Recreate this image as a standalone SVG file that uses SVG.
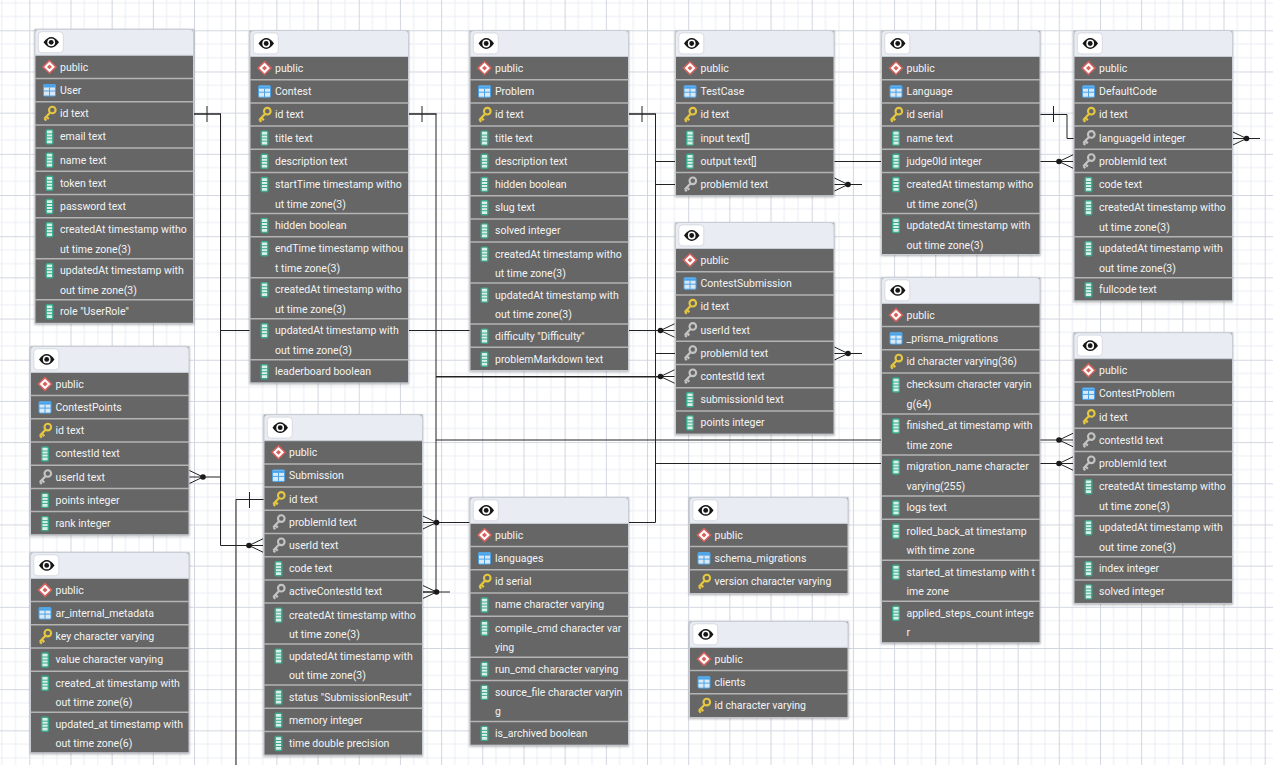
<svg xmlns="http://www.w3.org/2000/svg" width="1273" height="765" viewBox="0 0 1273 765">
<style>
text{font-family:Roboto,"Liberation Sans",sans-serif;font-size:10.5px;fill:#f4f4f4}
.b{fill:#666;stroke:#c9cdd6;stroke-width:1;filter:drop-shadow(0 1px 1px rgba(0,0,0,.3))}
.s{fill:none;stroke:#b4b4b4;stroke-width:1.5}
.c{fill:none;stroke:#222;stroke-width:1}
.h{fill:none;stroke:#222;stroke-width:1.700}
.bar{fill:none;stroke:#222;stroke-width:1}
</style>
<defs>
<pattern id="grid" patternUnits="userSpaceOnUse" x="29.300" y="30.300" width="41.180" height="41.180">
<rect width="41.180" height="41.180" fill="#fff"/>
<path d="M13.700 0V41.180M27.400 0V41.180M0 13.700H41.180M0 27.400H41.180" stroke="#eceef4" stroke-width="1" fill="none"/>
<path d="M0 0V41.180M0 0H41.180" stroke="#d2d6e0" stroke-width="2" fill="none"/>
</pattern>
<g id="hd">
<path d="M0 26V4a4 4 0 0 1 4-4H154.500a4 4 0 0 1 4 4V26Z" fill="#e9ecf2" stroke="#c9cdd6" stroke-width="1"/>
<rect x="3.300" y="2.400" width="25" height="21" rx="3.500" fill="#fff" stroke="#d8dbe2" stroke-width="1"/>
<path d="M8.500 13C11 9.500 13.500 7.600 16.200 7.600C19 7.600 21.500 9.500 24 13C21.500 16.500 19 18.400 16.200 18.400C13.500 18.400 11 16.500 8.500 13Z" fill="#151515"/>
<circle cx="16.200" cy="13" r="3.900" fill="#fff"/>
<circle cx="16.200" cy="13" r="2.400" fill="#151515"/>
</g>
<g id="i-s">
<path d="M14.500 5.200L21 11.600L14.500 18L8 11.600Z" fill="#fff" stroke="#d9605c" stroke-width="1.500"/>
<path d="M14.500 9.200L17 11.600L14.500 14L12 11.600Z" fill="#d9605c"/>
</g>
<g id="i-t">
<rect x="8.500" y="6" width="12" height="11.500" rx="1" fill="#dbe9f5" stroke="#4aa3e8" stroke-width="1"/>
<path d="M8.500 6.500h12v2.500h-12Z" fill="#4aa3e8"/>
<path d="M8.500 12.500h12M14.500 9V17.500" stroke="#4aa3e8" stroke-width="1" fill="none"/>
</g>
<g id="i-k">
<path d="M15 11L9.300 17M11.500 15l2.300 2.300M9.500 17l1.800 1.800" fill="none" stroke="#e6c740" stroke-width="2.200"/>
<circle cx="17.300" cy="8.300" r="3.300" fill="none" stroke="#e6c740" stroke-width="2.100"/>
</g>
<g id="i-f">
<path d="M15 11L9.300 17M11.500 15l2.300 2.300M9.500 17l1.800 1.800" fill="none" stroke="#c4c4c4" stroke-width="2.200"/>
<circle cx="17.300" cy="8.300" r="3.300" fill="none" stroke="#c4c4c4" stroke-width="2.100"/>
</g>
<g id="i-c">
<rect x="11.200" y="5" width="6.600" height="14" rx="1.200" fill="#d8f0e8" stroke="#3aaa8e" stroke-width="1.400"/>
<path d="M11 9h7M11 12h7M11 15h7" stroke="#3aaa8e" stroke-width="1" fill="none"/>
</g>
<g id="cr"><path d="M0 0L-14 -6.700M0 0H-14M0 0L-14 6.700" class="c"/><circle r="2.800" fill="#1a1a1a"/></g>
<g id="cl"><path d="M0 0L14 -6.700M0 0H14M0 0L14 6.700" class="c"/><circle r="2.800" fill="#1a1a1a"/></g>
</defs>
<rect width="1273" height="765" fill="url(#grid)"/>
<g id="connectors">
<path class="c" d="M220.500 114V545.500H249"/>
<path class="h" d="M194 114H221M409 114H436.500M628 114H656"/>
<path class="c" d="M203 477H220.500"/>
<path class="c" d="M220.500 330.500H660"/>
<path class="c" d="M436 114V592M423 592H450M436 376.500H660M436 377H660M436 440H1058"/>
<path class="c" d="M655.500 114V522.500H436"/>
<path class="c" d="M655.500 161.500H1058M655.500 184.500H675M834 184.500H862M655.500 353.500H675M834 353.500H862M655.500 463.500H1058"/>
<path class="c" d="M1040 114.500H1067V138.500H1074M1232 138.500H1260"/>
<path class="c" d="M264 499.500H236V765"/>
<path class="bar" d="M207 106V122M422 106V122M642 106V122M1053.500 106V122M249.500 492V508"/>
<use href="#cl" x="249" y="545.500"/>
<use href="#cr" x="203" y="477"/>
<use href="#cr" x="436.500" y="522.500"/>
<use href="#cr" x="436.500" y="592"/>
<use href="#cr" x="848" y="184.500"/>
<use href="#cr" x="848" y="353.500"/>
<use href="#cr" x="1246.500" y="138.500"/>
<use href="#cl" x="660.500" y="330.500"/>
<use href="#cl" x="660.500" y="376.500"/>
<use href="#cl" x="1059" y="161.500"/>
<use href="#cl" x="1059" y="440"/>
<use href="#cl" x="1059" y="463.500"/>
</g>

<g id="node-User" transform="translate(35,29.300)">
<rect class="b" width="158.500" height="294"/><use href="#hd"/>
<path class="s" d="M0 49.200h158.500M0 72.400h158.500M0 95.600h158.500M0 118.800h158.500M0 142h158.500M0 165.200h158.500M0 188.400h158.500M0 229.400h158.500M0 270.400h158.500"/>
<use href="#i-s" y="26"/><text x="25" y="41.500">public</text>
<use href="#i-t" y="49.200"/><text x="25" y="64.700">User</text>
<use href="#i-k" y="72.400"/><text x="25" y="87.900">id text</text>
<use href="#i-c" y="95.600"/><text x="25" y="111.100">email text</text>
<use href="#i-c" y="118.800"/><text x="25" y="134.300">name text</text>
<use href="#i-c" y="142"/><text x="25" y="157.500">token text</text>
<use href="#i-c" y="165.200"/><text x="25" y="180.700">password text</text>
<use href="#i-c" y="188.400"/><text x="25" y="203.900">createdAt timestamp witho</text><text x="25" y="223.400">ut time zone(3)</text>
<use href="#i-c" y="229.400"/><text x="25" y="244.900">updatedAt timestamp with</text><text x="25" y="264.400">out time zone(3)</text>
<use href="#i-c" y="270.400"/><text x="25" y="285.900">role "UserRole"</text>
</g>

<g id="node-Contest" transform="translate(250,30.500)">
<rect class="b" width="158.500" height="352.400"/><use href="#hd"/>
<path class="s" d="M0 49.200h158.500M0 72.400h158.500M0 95.600h158.500M0 118.800h158.500M0 142h158.500M0 183h158.500M0 206.200h158.500M0 247.200h158.500M0 288.200h158.500M0 329.200h158.500"/>
<use href="#i-s" y="26"/><text x="25" y="41.500">public</text>
<use href="#i-t" y="49.200"/><text x="25" y="64.700">Contest</text>
<use href="#i-k" y="72.400"/><text x="25" y="87.900">id text</text>
<use href="#i-c" y="95.600"/><text x="25" y="111.100">title text</text>
<use href="#i-c" y="118.800"/><text x="25" y="134.300">description text</text>
<use href="#i-c" y="142"/><text x="25" y="157.500">startTime timestamp witho</text><text x="25" y="177">ut time zone(3)</text>
<use href="#i-c" y="183"/><text x="25" y="198.500">hidden boolean</text>
<use href="#i-c" y="206.200"/><text x="25" y="221.700">endTime timestamp withou</text><text x="25" y="241.200">t time zone(3)</text>
<use href="#i-c" y="247.200"/><text x="25" y="262.700">createdAt timestamp witho</text><text x="25" y="282.200">ut time zone(3)</text>
<use href="#i-c" y="288.200"/><text x="25" y="303.700">updatedAt timestamp with</text><text x="25" y="323.200">out time zone(3)</text>
<use href="#i-c" y="329.200"/><text x="25" y="344.700">leaderboard boolean</text>
</g>

<g id="node-Problem" transform="translate(470,30.500)">
<rect class="b" width="158.500" height="340"/><use href="#hd"/>
<path class="s" d="M0 49.200h158.500M0 72.400h158.500M0 95.600h158.500M0 118.800h158.500M0 142h158.500M0 165.200h158.500M0 188.400h158.500M0 211.600h158.500M0 252.600h158.500M0 293.600h158.500M0 316.800h158.500"/>
<use href="#i-s" y="26"/><text x="25" y="41.500">public</text>
<use href="#i-t" y="49.200"/><text x="25" y="64.700">Problem</text>
<use href="#i-k" y="72.400"/><text x="25" y="87.900">id text</text>
<use href="#i-c" y="95.600"/><text x="25" y="111.100">title text</text>
<use href="#i-c" y="118.800"/><text x="25" y="134.300">description text</text>
<use href="#i-c" y="142"/><text x="25" y="157.500">hidden boolean</text>
<use href="#i-c" y="165.200"/><text x="25" y="180.700">slug text</text>
<use href="#i-c" y="188.400"/><text x="25" y="203.900">solved integer</text>
<use href="#i-c" y="211.600"/><text x="25" y="227.100">createdAt timestamp witho</text><text x="25" y="246.600">ut time zone(3)</text>
<use href="#i-c" y="252.600"/><text x="25" y="268.100">updatedAt timestamp with</text><text x="25" y="287.600">out time zone(3)</text>
<use href="#i-c" y="293.600"/><text x="25" y="309.100">difficulty "Difficulty"</text>
<use href="#i-c" y="316.800"/><text x="25" y="332.300">problemMarkdown text</text>
</g>

<g id="node-TestCase" transform="translate(675.500,30.500)">
<rect class="b" width="158.500" height="165.200"/><use href="#hd"/>
<path class="s" d="M0 49.200h158.500M0 72.400h158.500M0 95.600h158.500M0 118.800h158.500M0 142h158.500"/>
<use href="#i-s" y="26"/><text x="25" y="41.500">public</text>
<use href="#i-t" y="49.200"/><text x="25" y="64.700">TestCase</text>
<use href="#i-k" y="72.400"/><text x="25" y="87.900">id text</text>
<use href="#i-c" y="95.600"/><text x="25" y="111.100">input text[]</text>
<use href="#i-c" y="118.800"/><text x="25" y="134.300">output text[]</text>
<use href="#i-f" y="142"/><text x="25" y="157.500">problemId text</text>
</g>

<g id="node-Language" transform="translate(881.500,30.500)">
<rect class="b" width="158.500" height="224"/><use href="#hd"/>
<path class="s" d="M0 49.200h158.500M0 72.400h158.500M0 95.600h158.500M0 118.800h158.500M0 142h158.500M0 183h158.500"/>
<use href="#i-s" y="26"/><text x="25" y="41.500">public</text>
<use href="#i-t" y="49.200"/><text x="25" y="64.700">Language</text>
<use href="#i-k" y="72.400"/><text x="25" y="87.900">id serial</text>
<use href="#i-c" y="95.600"/><text x="25" y="111.100">name text</text>
<use href="#i-c" y="118.800"/><text x="25" y="134.300">judge0Id integer</text>
<use href="#i-c" y="142"/><text x="25" y="157.500">createdAt timestamp witho</text><text x="25" y="177">ut time zone(3)</text>
<use href="#i-c" y="183"/><text x="25" y="198.500">updatedAt timestamp with</text><text x="25" y="218">out time zone(3)</text>
</g>

<g id="node-DefaultCode" transform="translate(1074,30.500)">
<rect class="b" width="158.500" height="270.400"/><use href="#hd"/>
<path class="s" d="M0 49.200h158.500M0 72.400h158.500M0 95.600h158.500M0 118.800h158.500M0 142h158.500M0 165.200h158.500M0 206.200h158.500M0 247.200h158.500"/>
<use href="#i-s" y="26"/><text x="25" y="41.500">public</text>
<use href="#i-t" y="49.200"/><text x="25" y="64.700">DefaultCode</text>
<use href="#i-k" y="72.400"/><text x="25" y="87.900">id text</text>
<use href="#i-f" y="95.600"/><text x="25" y="111.100">languageId integer</text>
<use href="#i-f" y="118.800"/><text x="25" y="134.300">problemId text</text>
<use href="#i-c" y="142"/><text x="25" y="157.500">code text</text>
<use href="#i-c" y="165.200"/><text x="25" y="180.700">createdAt timestamp witho</text><text x="25" y="200.200">ut time zone(3)</text>
<use href="#i-c" y="206.200"/><text x="25" y="221.700">updatedAt timestamp with</text><text x="25" y="241.200">out time zone(3)</text>
<use href="#i-c" y="247.200"/><text x="25" y="262.700">fullcode text</text>
</g>

<g id="node-ContestPoints" transform="translate(30.500,346.400)">
<rect class="b" width="158.500" height="188.400"/><use href="#hd"/>
<path class="s" d="M0 49.200h158.500M0 72.400h158.500M0 95.600h158.500M0 118.800h158.500M0 142h158.500M0 165.200h158.500"/>
<use href="#i-s" y="26"/><text x="25" y="41.500">public</text>
<use href="#i-t" y="49.200"/><text x="25" y="64.700">ContestPoints</text>
<use href="#i-k" y="72.400"/><text x="25" y="87.900">id text</text>
<use href="#i-c" y="95.600"/><text x="25" y="111.100">contestId text</text>
<use href="#i-f" y="118.800"/><text x="25" y="134.300">userId text</text>
<use href="#i-c" y="142"/><text x="25" y="157.500">points integer</text>
<use href="#i-c" y="165.200"/><text x="25" y="180.700">rank integer</text>
</g>

<g id="node-ar_internal_metadata" transform="translate(30.500,552.400)">
<rect class="b" width="158.500" height="200.400"/><use href="#hd"/>
<path class="s" d="M0 49.200h158.500M0 72.400h158.500M0 95.600h158.500M0 118.800h158.500M0 159.800h158.500"/>
<use href="#i-s" y="26"/><text x="25" y="41.500">public</text>
<use href="#i-t" y="49.200"/><text x="25" y="64.700">ar_internal_metadata</text>
<use href="#i-k" y="72.400"/><text x="25" y="87.900">key character varying</text>
<use href="#i-c" y="95.600"/><text x="25" y="111.100">value character varying</text>
<use href="#i-c" y="118.800"/><text x="25" y="134.300">created_at timestamp with</text><text x="25" y="153.800">out time zone(6)</text>
<use href="#i-c" y="159.800"/><text x="25" y="175.300">updated_at timestamp with</text><text x="25" y="194.800">out time zone(6)</text>
</g>

<g id="node-Submission" transform="translate(264,414.700)">
<rect class="b" width="158.500" height="340.400"/><use href="#hd"/>
<path class="s" d="M0 49.200h158.500M0 72.400h158.500M0 95.600h158.500M0 118.800h158.500M0 142h158.500M0 165.200h158.500M0 188.400h158.500M0 229.400h158.500M0 270.400h158.500M0 293.600h158.500M0 316.800h158.500"/>
<use href="#i-s" y="26"/><text x="25" y="41.500">public</text>
<use href="#i-t" y="49.200"/><text x="25" y="64.700">Submission</text>
<use href="#i-k" y="72.400"/><text x="25" y="87.900">id text</text>
<use href="#i-f" y="95.600"/><text x="25" y="111.100">problemId text</text>
<use href="#i-f" y="118.800"/><text x="25" y="134.300">userId text</text>
<use href="#i-c" y="142"/><text x="25" y="157.500">code text</text>
<use href="#i-f" y="165.200"/><text x="25" y="180.700">activeContestId text</text>
<use href="#i-c" y="188.400"/><text x="25" y="203.900">createdAt timestamp witho</text><text x="25" y="223.400">ut time zone(3)</text>
<use href="#i-c" y="229.400"/><text x="25" y="244.900">updatedAt timestamp with</text><text x="25" y="264.400">out time zone(3)</text>
<use href="#i-c" y="270.400"/><text x="25" y="285.900">status "SubmissionResult"</text>
<use href="#i-c" y="293.600"/><text x="25" y="309.100">memory integer</text>
<use href="#i-c" y="316.800"/><text x="25" y="332.300">time double precision</text>
</g>

<g id="node-languages" transform="translate(470,497.400)">
<rect class="b" width="158.500" height="247.800"/><use href="#hd"/>
<path class="s" d="M0 49.200h158.500M0 72.400h158.500M0 95.600h158.500M0 118.800h158.500M0 159.800h158.500M0 183h158.500M0 224h158.500"/>
<use href="#i-s" y="26"/><text x="25" y="41.500">public</text>
<use href="#i-t" y="49.200"/><text x="25" y="64.700">languages</text>
<use href="#i-k" y="72.400"/><text x="25" y="87.900">id serial</text>
<use href="#i-c" y="95.600"/><text x="25" y="111.100">name character varying</text>
<use href="#i-c" y="118.800"/><text x="25" y="134.300">compile_cmd character var</text><text x="25" y="153.800">ying</text>
<use href="#i-c" y="159.800"/><text x="25" y="175.300">run_cmd character varying</text>
<use href="#i-c" y="183"/><text x="25" y="198.500">source_file character varyin</text><text x="25" y="218">g</text>
<use href="#i-c" y="224"/><text x="25" y="239.500">is_archived boolean</text>
</g>

<g id="node-ContestSubmission" transform="translate(675.500,222.500)">
<rect class="b" width="158.500" height="211.600"/><use href="#hd"/>
<path class="s" d="M0 49.200h158.500M0 72.400h158.500M0 95.600h158.500M0 118.800h158.500M0 142h158.500M0 165.200h158.500M0 188.400h158.500"/>
<use href="#i-s" y="26"/><text x="25" y="41.500">public</text>
<use href="#i-t" y="49.200"/><text x="25" y="64.700">ContestSubmission</text>
<use href="#i-k" y="72.400"/><text x="25" y="87.900">id text</text>
<use href="#i-f" y="95.600"/><text x="25" y="111.100">userId text</text>
<use href="#i-f" y="118.800"/><text x="25" y="134.300">problemId text</text>
<use href="#i-f" y="142"/><text x="25" y="157.500">contestId text</text>
<use href="#i-c" y="165.200"/><text x="25" y="180.700">submissionId text</text>
<use href="#i-c" y="188.400"/><text x="25" y="203.900">points integer</text>
</g>

<g id="node-prisma_migrations" transform="translate(881.500,277.400)">
<rect class="b" width="158.500" height="365.400"/><use href="#hd"/>
<path class="s" d="M0 49.200h158.500M0 72.400h158.500M0 95.600h158.500M0 136.600h158.500M0 177.600h158.500M0 218.600h158.500M0 241.800h158.500M0 282.800h158.500M0 323.800h158.500"/>
<use href="#i-s" y="26"/><text x="25" y="41.500">public</text>
<use href="#i-t" y="49.200"/><text x="25" y="64.700">_prisma_migrations</text>
<use href="#i-k" y="72.400"/><text x="25" y="87.900">id character varying(36)</text>
<use href="#i-c" y="95.600"/><text x="25" y="111.100">checksum character varyin</text><text x="25" y="130.600">g(64)</text>
<use href="#i-c" y="136.600"/><text x="25" y="152.100">finished_at timestamp with</text><text x="25" y="171.600">time zone</text>
<use href="#i-c" y="177.600"/><text x="25" y="193.100">migration_name character</text><text x="25" y="212.600">varying(255)</text>
<use href="#i-c" y="218.600"/><text x="25" y="234.100">logs text</text>
<use href="#i-c" y="241.800"/><text x="25" y="257.300">rolled_back_at timestamp</text><text x="25" y="276.800">with time zone</text>
<use href="#i-c" y="282.800"/><text x="25" y="298.300">started_at timestamp with t</text><text x="25" y="317.800">ime zone</text>
<use href="#i-c" y="323.800"/><text x="25" y="339.300">applied_steps_count intege</text><text x="25" y="358.800">r</text>
</g>

<g id="node-ContestProblem" transform="translate(1074,332.700)">
<rect class="b" width="158.500" height="270.700"/><use href="#hd"/>
<path class="s" d="M0 49.200h158.500M0 72.400h158.500M0 95.600h158.500M0 118.800h158.500M0 142h158.500M0 183h158.500M0 224h158.500M0 247.200h158.500"/>
<use href="#i-s" y="26"/><text x="25" y="41.500">public</text>
<use href="#i-t" y="49.200"/><text x="25" y="64.700">ContestProblem</text>
<use href="#i-k" y="72.400"/><text x="25" y="87.900">id text</text>
<use href="#i-f" y="95.600"/><text x="25" y="111.100">contestId text</text>
<use href="#i-f" y="118.800"/><text x="25" y="134.300">problemId text</text>
<use href="#i-c" y="142"/><text x="25" y="157.500">createdAt timestamp witho</text><text x="25" y="177">ut time zone(3)</text>
<use href="#i-c" y="183"/><text x="25" y="198.500">updatedAt timestamp with</text><text x="25" y="218">out time zone(3)</text>
<use href="#i-c" y="224"/><text x="25" y="239.500">index integer</text>
<use href="#i-c" y="247.200"/><text x="25" y="262.700">solved integer</text>
</g>

<g id="node-schema_migrations" transform="translate(689.500,497.400)">
<rect class="b" width="158.500" height="96.200"/><use href="#hd"/>
<path class="s" d="M0 49.200h158.500M0 72.400h158.500"/>
<use href="#i-s" y="26"/><text x="25" y="41.500">public</text>
<use href="#i-t" y="49.200"/><text x="25" y="64.700">schema_migrations</text>
<use href="#i-k" y="72.400"/><text x="25" y="87.900">version character varying</text>
</g>

<g id="node-clients" transform="translate(689.500,621.400)">
<rect class="b" width="158.500" height="96.200"/><use href="#hd"/>
<path class="s" d="M0 49.200h158.500M0 72.400h158.500"/>
<use href="#i-s" y="26"/><text x="25" y="41.500">public</text>
<use href="#i-t" y="49.200"/><text x="25" y="64.700">clients</text>
<use href="#i-k" y="72.400"/><text x="25" y="87.900">id character varying</text>
</g>
</svg>
